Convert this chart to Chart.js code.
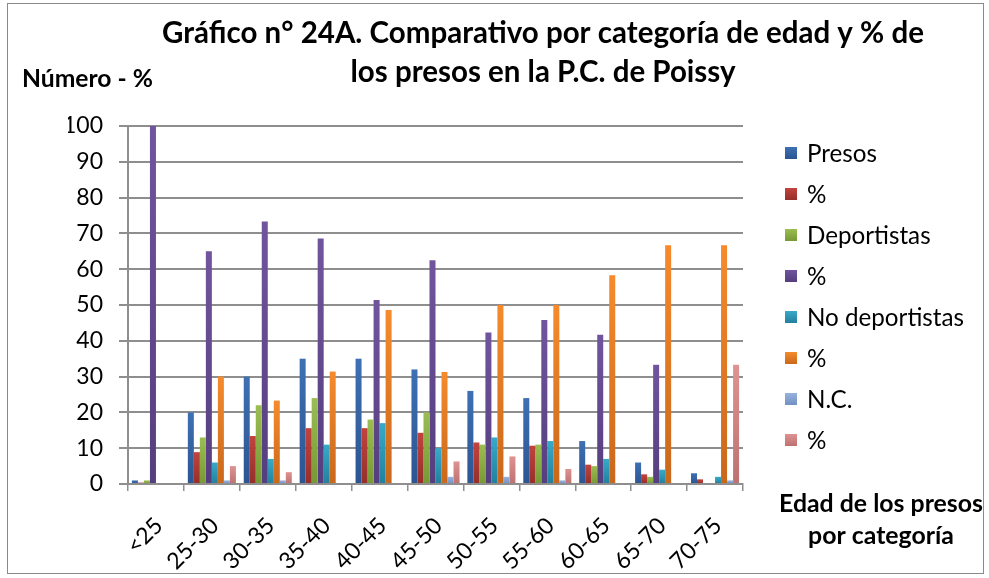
<!DOCTYPE html>
<html>
<head>
<meta charset="utf-8">
<script src="https://cdn.jsdelivr.net/npm/chart.js@4/dist/chart.umd.min.js"></script>
<style>
  html, body { margin: 0; padding: 0; background: #fff; }
  #wrap { width: 989px; height: 578px; position: relative; }
</style>
</head>
<body>
<div id="wrap"><canvas id="c" width="989" height="578"></canvas></div>
<script>
// ---- Data ----
const categories = ['<25', '25-30', '30-35', '35-40', '40-45', '45-50', '50-55', '55-60', '60-65', '65-70', '70-75'];
const presos        = [1, 20, 30, 35, 35, 32, 26, 24, 12, 6, 3];
const presosPct     = [0.4, 8.9, 13.4, 15.6, 15.6, 14.3, 11.6, 10.7, 5.4, 2.7, 1.3];
const deportistas   = [1, 13, 22, 24, 18, 20, 11, 11, 5, 2, 0];
const deportPct     = [100, 65, 73.3, 68.6, 51.4, 62.5, 42.3, 45.8, 41.7, 33.3, 0];
const noDeport      = [0, 6, 7, 11, 17, 10, 13, 12, 7, 4, 2];
const noDeportPct   = [0, 30, 23.3, 31.4, 48.6, 31.3, 50, 50, 58.3, 66.7, 66.7];
const nc            = [0, 1, 1, 0, 0, 2, 2, 1, 0, 0, 1];
const ncPct         = [0, 5, 3.3, 0, 0, 6.3, 7.7, 4.2, 0, 0, 33.3];
const seriesLabels  = ['Presos', '%', 'Deportistas', '%', 'No deportistas', '%', 'N.C.', '%'];
const yTicks        = [0, 10, 20, 30, 40, 50, 60, 70, 80, 90, 100];
const titleLines    = ['Gráfico n° 24A. Comparativo por categoría de edad y % de', 'los presos en la P.C. de Poissy'];
const yTitle        = 'Número - %';
const xTitleLines   = ['Edad de los presos', 'por categoría'];

// ---- Styles ----
const seriesValues = [presos, presosPct, deportistas, deportPct, noDeport, noDeportPct, nc, ncPct];
const colors = [
  ['#3e70b4', '#2b5592'],
  ['#c2433e', '#962e2a'],
  ['#9bbd52', '#769935'],
  ['#71549e', '#553e7e'],
  ['#37aac8', '#22809c'],
  ['#f68b2d', '#c9671b'],
  ['#97b2dd', '#7190c3'],
  ['#de9392', '#bd7171']
];
const FONT = 'Lato, "Open Sans", sans-serif';
const GRID = '#8e8e8e';

function barFill(top, bottom) {
  return (ctx) => {
    if (ctx.type !== 'data') return top;
    const chart = ctx.chart;
    if (!chart.chartArea) return top;
    const ys = chart.scales.y;
    const y0 = ys.getPixelForValue(ctx.raw);
    const y1 = ys.getPixelForValue(0);
    if (!(y1 - y0 > 1)) return top;
    const g = chart.ctx.createLinearGradient(0, y0, 0, y1);
    g.addColorStop(0, top);
    g.addColorStop(1, bottom);
    return g;
  };
}

const datasets = seriesLabels.map((lab, i) => ({
  label: lab,
  data: seriesValues[i],
  backgroundColor: barFill(colors[i][0], colors[i][1]),
  borderWidth: 0
}));

function fitSize(c, text, weight, target) {
  c.font = `${weight} 100px ${FONT}`;
  return 100 * target / c.measureText(text).width;
}

const decor = {
  id: 'decor',
  beforeDraw(chart) {
    const c = chart.ctx;
    c.save();
    c.fillStyle = '#fff';
    c.fillRect(0, 0, chart.width, chart.height);
    c.strokeStyle = '#8a8a8a';
    c.lineWidth = 1;
    c.strokeRect(7.5, 3.5, 976, 570);
    c.restore();
  },
  afterDraw(chart) {
    const c = chart.ctx;
    c.save();
    c.fillStyle = '#000';
    c.textBaseline = 'middle';
    // Title
    const ts = fitSize(c, titleLines[0], 'bold', 762);
    c.font = `bold ${ts}px ${FONT}`;
    c.textAlign = 'center';
    c.fillText(titleLines[0], 543, 33);
    c.fillText(titleLines[1], 543, 72);
    // Y title
    const ys = fitSize(c, yTitle, 'bold', 131);
    c.font = `bold ${ys}px ${FONT}`;
    c.textAlign = 'left';
    c.fillText(yTitle, 22, 79);
    // X title
    const xs = fitSize(c, xTitleLines[0], 'bold', 204);
    c.font = `bold ${xs}px ${FONT}`;
    c.textAlign = 'center';
    c.fillText(xTitleLines[0], 881, 504);
    c.fillText(xTitleLines[1], 881, 536);
    // Legend
    const ls = fitSize(c, 'No deportistas', 'normal', 157);
    c.font = `normal ${ls}px ${FONT}`;
    c.textAlign = 'left';
    seriesLabels.forEach((lab, i) => {
      const y = 153 + 41 * i;
      const g = c.createLinearGradient(0, y - 6, 0, y + 6);
      g.addColorStop(0, colors[i][0]);
      g.addColorStop(1, colors[i][1]);
      c.fillStyle = g;
      c.fillRect(785, y - 6, 12, 12);
      c.fillStyle = '#000';
      c.fillText(lab, 807, y + 1);
    });
    c.restore();
  }
};

const Y_W = 60;
new Chart(document.getElementById('c'), {
  type: 'bar',
  data: { labels: categories, datasets },
  options: {
    responsive: false,
    animation: false,
    devicePixelRatio: 1,
    layout: { padding: { left: 128 - Y_W, right: 989 - 743, top: 126, bottom: 0 } },
    datasets: { bar: { categoryPercentage: 0.86, barPercentage: 1.0 } },
    plugins: { legend: { display: false }, title: { display: false }, tooltip: { enabled: false } },
    scales: {
      x: {
        grid: { display: true, drawOnChartArea: false, offset: true, color: GRID, lineWidth: 1.5, tickLength: 7 },
        border: { color: GRID, width: 2 },
        ticks: { font: { family: FONT, size: 23 }, color: '#000', minRotation: 45, maxRotation: 45, autoSkip: false, padding: 21, labelOffset: 3 },
        afterFit: (s) => { s.height = 94; }
      },
      y: {
        min: 0, max: 100,
        afterBuildTicks: (s) => { s.ticks = yTicks.map(v => ({ value: v })); },
        grid: { color: GRID, lineWidth: 2, tickLength: 9 },
        border: { color: GRID, width: 2 },
        ticks: { font: { family: FONT, size: 23 }, color: '#000', padding: 16 },
        afterFit: (s) => { s.width = Y_W; }
      }
    }
  },
  plugins: [decor]
});
</script>
</body>
</html>
